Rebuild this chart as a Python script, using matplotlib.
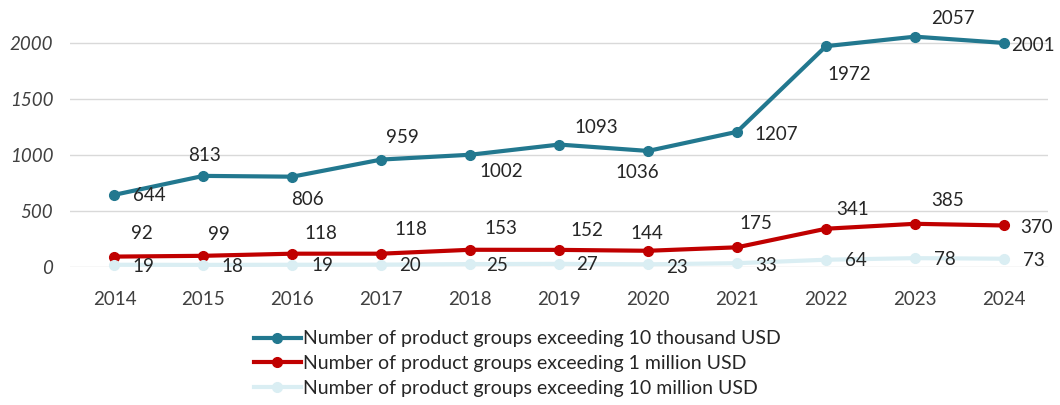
import matplotlib
matplotlib.use("Agg")
from matplotlib import pyplot as plt

years = [2014, 2015, 2016, 2017, 2018, 2019, 2020, 2021, 2022, 2023, 2024]
over_10k = [644, 813, 806, 959, 1002, 1093, 1036, 1207, 1972, 2057, 2001]
over_1m = [92, 99, 118, 118, 153, 152, 144, 175, 341, 385, 370]
over_10m = [19, 18, 19, 20, 25, 27, 23, 33, 64, 78, 73]

series_names = [
    "Number of product groups exceeding 10 thousand USD",
    "Number of product groups exceeding 1 million USD",
    "Number of product groups exceeding 10 million USD",
]

# label offsets (pixels, y up) for each point label
off_10k = [(35, -1), (1, 20), (15, -23), (21, 22), (31, -17), (37, 17), (-11, -22), (39, -3), (23, -28), (38, 18), (29, -3)]
off_1m = [(27, 23), (15, 21), (29, 20), (30, 24), (31, 21), (28, 19), (-1, 17), (19, 24), (27, 19), (33, 23), (33, -2)]
off_10m = [(29, -2), (29, -2), (30, -1), (29, -1), (27, -1), (28, -1), (29, -3), (29, -2), (30, -1), (30, -1), (30, -2)]

plt.rcParams['font.family'] = ['Lato', 'DejaVu Sans']

fig = plt.figure(figsize=(10.6, 4.05), dpi=100)
ax = fig.add_axes([0.066, 0.341, 0.923, 0.608])

colors = ["#22788F", "#C00000", "#DAEEF3"]
text_col = "#262626"

for vals, offs, col, name in zip([over_10k, over_1m, over_10m], [off_10k, off_1m, off_10m], colors, series_names):
    ax.plot(years, vals, color=col, lw=3, marker="o", ms=7, label=name, clip_on=False, zorder=3)
    for x, y, (dx, dy) in zip(years, vals, offs):
        ax.annotate(str(y), (x, y), xytext=(dx, dy), textcoords="offset pixels",
                    ha="center", va="center", fontsize=13.5, color=text_col, zorder=4)

ax.set_xlim(2013.5, 2024.5)
ax.set_ylim(0, 2200)
ax.set_yticks([0, 500, 1000, 1500, 2000])
ax.set_xticks(years)
ax.set_yticklabels(["0", "500", "1000", "1500", "2000"], style="italic")
ax.tick_params(length=0, labelsize=13.5, colors="#404040")
ax.tick_params(axis="y", pad=12)
ax.tick_params(axis="x", pad=17)
ax.grid(axis="y", color="#D9D9D9", lw=1)
ax.set_axisbelow(True)
for s in ax.spines.values():
    s.set_visible(False)

ax.legend(loc="upper left", bbox_to_anchor=(0.188, -0.258), frameon=False, fontsize=14,
          handlelength=2.4, handletextpad=0.1, labelspacing=0.4, borderpad=0,
          borderaxespad=0, labelcolor=text_col)

fig.savefig("out.png", dpi=100)
